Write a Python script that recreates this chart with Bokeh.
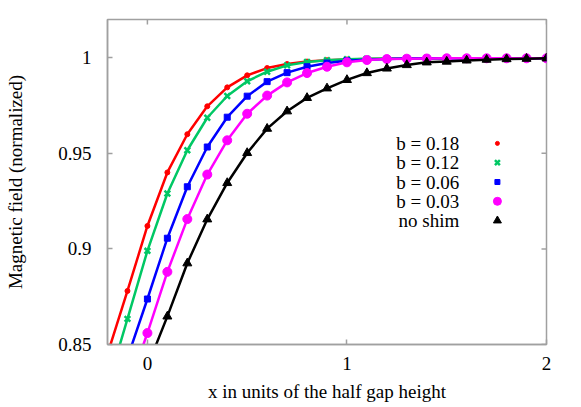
import math
from bokeh.plotting import figure
from bokeh.models import Range1d, FixedTicker
from bokeh.core.properties import value
from bokeh.embed import file_html
from bokeh.resources import INLINE

x = [-0.2, -0.1, 0.0, 0.1, 0.2, 0.3, 0.4, 0.5, 0.6, 0.7, 0.8, 0.9, 1.0,
     1.1, 1.2, 1.3, 1.4, 1.5, 1.6, 1.7, 1.8, 1.9, 2.0]

b018 = [0.845, 0.878, 0.912, 0.940, 0.960, 0.9746, 0.9845, 0.9908, 0.9946, 0.9967,
        0.9980, 0.9987, 0.9991, 0.9994, 0.9995, 0.9996, 0.9997, 0.9997, 0.9997,
        0.9997, 0.9997, 0.9997, 0.9997]
b012 = [0.828, 0.8634, 0.899, 0.929, 0.9516, 0.9686, 0.9800, 0.9877, 0.9927, 0.9960,
        0.9978, 0.9987, 0.9992, 0.9995, 0.9996, 0.9997, 0.9997, 0.9997, 0.9997,
        0.9997, 0.9997, 0.9997, 0.9997]
b006 = [0.812, 0.843, 0.8738, 0.9056, 0.9325, 0.9533, 0.9689, 0.9799, 0.9875, 0.9922,
        0.9953, 0.9972, 0.9984, 0.9990, 0.9994, 0.9996, 0.9997, 0.9997, 0.9997,
        0.9997, 0.9997, 0.9997, 0.9997]
b003 = [0.797, 0.826, 0.856, 0.888, 0.9156, 0.9389, 0.9568, 0.9707, 0.9802, 0.9871,
        0.9920, 0.9953, 0.9976, 0.9988, 0.9993, 0.9995, 0.9996, 0.9997, 0.9997,
        0.9997, 0.9997, 0.9997, 0.9997]
noshim = [0.790, 0.812, 0.8385, 0.8647, 0.8925, 0.9155, 0.9345, 0.9502, 0.9629, 0.9720,
          0.9790, 0.9840, 0.9884, 0.9920, 0.9944, 0.9962, 0.9976, 0.9980, 0.9986,
          0.9990, 0.9993, 0.9995, 0.9997]

labels = ["b = 0.18", "b = 0.12", "b = 0.06", "b = 0.03", "no shim"]
series = [b018, b012, b006, b003, noshim]
colors = ["#ff0000", "#00c864", "#0000ff", "#ff00ff", "#000000"]
markers = ["circle", "x", "square", "circle", "triangle"]
msizes = [5, 8, 6, 9, 9]

x_ticks = [0, 1, 2]
y_ticks = [0.85, 0.9, 0.95, 1]
X_MIN, X_MAX = -0.2, 2.0
Y_MIN, Y_MAX = 0.85, 1.02

FONT = "Liberation Serif"
FS = "19px"
GRAY = "#a0a0a0"

p = figure(width=575, height=404, output_backend="svg", toolbar_location=None,
           x_range=Range1d(X_MIN, X_MAX), y_range=Range1d(Y_MIN, Y_MAX),
           min_border_left=107, min_border_top=19, min_border_right=29,
           min_border_bottom=59)
p.grid.visible = False
p.outline_line_color = GRAY
p.outline_line_width = 1.5

for ax in (p.xaxis[0], p.yaxis[0]):
    ax.axis_line_color = GRAY
    ax.axis_line_width = 1.5
    ax.major_tick_line_color = GRAY
    ax.major_tick_line_width = 1.5
    ax.major_tick_in = 5
    ax.major_tick_out = 0
    ax.minor_tick_line_color = None
    ax.major_label_text_font = FONT
    ax.major_label_text_font_size = FS
    ax.major_label_text_color = "#000000"
    ax.axis_label_text_font = FONT
    ax.axis_label_text_font_size = FS
    ax.axis_label_text_font_style = "normal"
    ax.axis_label_text_color = "#000000"

p.xaxis.ticker = FixedTicker(ticks=x_ticks)
p.yaxis.ticker = FixedTicker(ticks=y_ticks)
p.xaxis.major_label_overrides = {0: "0", 1: "1", 2: "2"}
p.yaxis.major_label_overrides = {0.85: "0.85", 0.9: "0.9", 0.95: "0.95", 1: "1"}
p.xaxis.axis_label = "x in units of the half gap height"
p.yaxis.axis_label = "Magnetic field (normalized)"
p.xaxis.major_label_standoff = 12
p.xaxis.axis_label_standoff = 8
p.yaxis.major_label_standoff = 16
p.yaxis.axis_label_standoff = 29

# mirrored inward ticks on the top and right borders (half of each dash is clipped)
p.scatter(x_ticks, [Y_MAX] * len(x_ticks), marker="dash", size=10, angle=math.pi / 2,
          line_color=GRAY, line_width=1.5)
p.scatter([X_MAX] * len(y_ticks), y_ticks, marker="dash", size=10,
          line_color=GRAY, line_width=1.5)

for ys, c, m, s in zip(series, colors, markers, msizes):
    p.line(x, ys, line_color=c, line_width=2.5)
    if m == "x":
        p.scatter(x, ys, marker=m, size=s, line_color=c, line_width=2.5)
    else:
        p.scatter(x, ys, marker=m, size=s, fill_color=c, line_color=c)

# legend (positions in data units derived from frame scale)
leg_text_x = 1.563
leg_mark_x = 1.754
leg_y0 = 0.9552
leg_dy = 0.0101
leg_y = [leg_y0 - i * leg_dy for i in range(len(labels))]
p.text([leg_text_x] * len(labels), leg_y, text=labels, text_align="right",
       text_baseline="middle", text_font=value(FONT), text_font_size=FS,
       text_color="#000000")
for yy, c, m, s in zip(leg_y, colors, markers, msizes):
    if m == "x":
        p.scatter([leg_mark_x], [yy], marker=m, size=s - 1, line_color=c, line_width=2.5)
    else:
        p.scatter([leg_mark_x], [yy], marker=m, size=s - 1, fill_color=c, line_color=c)

open("out.html", "w").write(file_html(p, INLINE))
